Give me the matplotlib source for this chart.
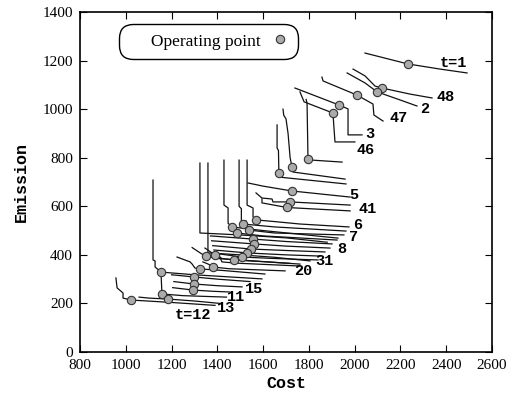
import matplotlib
matplotlib.use("Agg")
import matplotlib.pyplot as plt
from matplotlib.lines import Line2D

# Pareto fronts per time step (cost, emission)
front_cost = [
    [2045, 2233, 2373, 2491],                      # t=1
    [1993, 2045, 2089, 2119, 2242, 2338],          # 48
    [1967, 2045, 2098, 2198, 2272],                # 2
    [1857, 1862, 2010, 2080, 2084, 2111, 2124],    # 47
    [1739, 1932, 1971, 1971, 2032],                # 3
    [1761, 1779, 1905, 1914, 2001],                # 46
    [1788, 1792, 1796, 1800, 1945],
    [1687, 1690, 1700, 1709, 1718, 1726, 1731, 1958],
    [1661, 1661, 1667, 1669, 1682, 1962],
    [1534, 1600, 1726, 1980],                      # 5
    [1569, 1595, 1639, 1643, 1717, 1980],          # 41
    [1595, 1595, 1704, 1980],
    [1530, 1530, 1556, 1556, 1569, 1650, 1761, 1975],  # 6
    [1495, 1495, 1505, 1505, 1512, 1650, 1962],
    [1525, 1538, 1650, 1953],                      # 7
    [1429, 1429, 1447, 1447, 1464, 1600, 1927],
    [1470, 1486, 1600, 1923],
    [1370, 1556, 1700, 1901],                      # 8
    [1375, 1560, 1700, 1892],
    [1380, 1547, 1700, 1870],
    [1385, 1530, 1700, 1849],
    [1400, 1508, 1650, 1840],                      # 31
    [1412, 1420, 1473, 1600, 1761],
    [1324, 1324, 1500, 1700, 1880],
    [1359, 1359, 1500, 1650, 1805],
    [1290, 1330, 1351, 1400, 1717],
    [1346, 1390, 1412, 1420, 1480, 1761],
    [1337, 1360, 1381, 1450, 1696],                # 20
    [1224, 1281, 1290, 1302, 1324, 1420, 1608],
    [1119, 1119, 1128, 1128, 1154, 1300, 1595],
    [1200, 1298, 1400, 1543],
    [1210, 1298, 1400, 1508],                      # 15
    [1205, 1294, 1380, 1455],
    [1154, 1158, 1250, 1440],                      # 11
    [1058, 1100, 1184, 1300, 1412],                # 13
    [957, 962, 988, 988, 1023, 1200, 1390],        # t=12
]
front_emis = [
    [1231, 1186, 1165, 1149],
    [1165, 1137, 1095, 1087, 1062, 1046],
    [1149, 1108, 1071, 1038, 1013],
    [1132, 1116, 1058, 1021, 976, 959, 951],
    [1087, 1017, 1001, 894, 894],
    [1071, 1030, 984, 865, 865],
    [1040, 1025, 799, 791, 782],
    [1000, 975, 960, 900, 800, 762, 741, 712],
    [935, 840, 830, 737, 719, 692],
    [696, 683, 663, 638],
    [655, 634, 630, 618, 618, 605],
    [630, 614, 595, 581],
    [790, 605, 593, 556, 544, 537, 527, 515],
    [790, 600, 590, 540, 527, 515, 498],
    [540, 502, 490, 482],
    [790, 605, 593, 530, 515, 500, 469],
    [520, 490, 478, 461],
    [478, 465, 455, 445],
    [458, 445, 436, 428],
    [438, 424, 418, 412],
    [420, 408, 400, 395],
    [405, 391, 385, 379],
    [390, 385, 379, 372, 362],
    [778, 490, 482, 470, 452],
    [778, 408, 400, 390, 375],
    [430, 405, 395, 385, 365],
    [428, 399, 390, 371, 366, 354],
    [371, 362, 350, 343, 334],
    [391, 371, 362, 346, 342, 336, 321],
    [708, 379, 375, 350, 329, 318, 301],
    [318, 309, 300, 290],
    [290, 280, 273, 268],
    [265, 255, 250, 247],
    [325, 239, 232, 226],
    [226, 222, 218, 210, 200],
    [305, 264, 243, 222, 214, 204, 192],
]

op_cost = [2233, 2119, 2098, 2010, 1932, 1905, 1796, 1726, 1669, 1726, 1717, 1704,
           1569, 1512, 1538, 1464, 1486, 1556, 1560, 1547, 1530, 1508, 1473, 1390,
           1351, 1381, 1324, 1154, 1298, 1298, 1294, 1158, 1184, 1023]
op_emis = [1186, 1087, 1071, 1058, 1017, 984, 795, 762, 737, 663, 618, 595,
           544, 527, 502, 515, 490, 465, 445, 424, 408, 391, 379, 399,
           395, 350, 342, 329, 309, 280, 255, 239, 218, 214]

t_labels = ["t=1", "48", "2", "47", "3", "46", "5", "41", "6", "7", "8", "31", "20",
            "15", "11", "13", "t=12"]
t_label_cost = [2430, 2399, 2307, 2194, 2067, 2050, 1997, 2058, 2015, 1993, 1945, 1866,
                1774, 1560, 1482, 1438, 1294]
t_label_emis = [1192, 1050, 1001, 964, 898, 832, 647, 589, 523, 474, 424, 375,
                334, 259, 226, 181, 152]

fig = plt.figure(figsize=(5.12, 4.01), dpi=100)
ax = fig.add_axes([80 / 512, 1 - 352 / 401, 412 / 512, 340 / 401])

for xs, ys in zip(front_cost, front_emis):
    ax.plot(xs, ys, color="#111111", lw=0.9, zorder=2)

ax.plot(op_cost, op_emis, ls="none", marker="o", ms=6, mfc="#aaaaaa",
        mec="#333333", mew=0.8, zorder=3)

for lab, x, y in zip(t_labels, t_label_cost, t_label_emis):
    ax.text(x, y, lab, family="Liberation Mono", weight="bold", fontsize=11,
            ha="center", va="center", zorder=4)

ax.set_xlim(800, 2600)
ax.set_ylim(0, 1400)
ax.set_xticks(range(800, 2601, 200))
ax.set_yticks(range(0, 1401, 200))
ax.tick_params(direction="in", length=5, top=True, right=True, labelsize=11)
ax.tick_params(axis="x", pad=5)
ax.tick_params(axis="y", pad=5)
for lbl in ax.get_xticklabels() + ax.get_yticklabels():
    lbl.set_family("Liberation Serif")
for sp in ax.spines.values():
    sp.set_linewidth(1.2)

ax.set_xlabel("Cost", family="Liberation Mono", weight="bold", fontsize=12, labelpad=3)
ax.set_ylabel("Emission", family="Liberation Mono", weight="bold", fontsize=12, labelpad=10)

handle = Line2D([], [], ls="none", marker="o", ms=6, mfc="#aaaaaa", mec="#333333", mew=0.8)
leg = ax.legend([handle], ["     Operating point"], loc="upper left",
                bbox_to_anchor=(0.104, 0.955), borderaxespad=0, markerfirst=False,
                fancybox=True, framealpha=1, edgecolor="black",
                prop={"family": "Liberation Serif", "size": 12.5},
                handletextpad=0.6, borderpad=0.35, handlelength=1.0)
leg.get_frame().set_linewidth(1.0)
leg.get_frame().set_boxstyle("round,pad=0.2,rounding_size=0.8")

fig.savefig("out.png", dpi=100)
